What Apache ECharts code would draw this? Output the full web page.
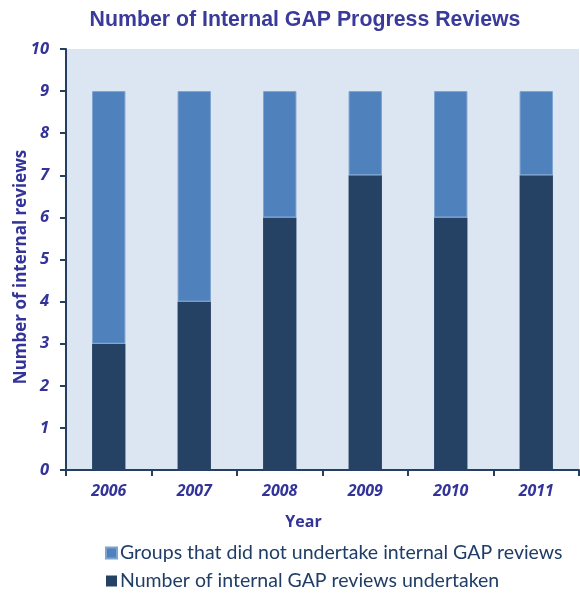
<!DOCTYPE html>
<html><head><meta charset="utf-8">
<script src="https://cdn.jsdelivr.net/npm/echarts@6/dist/echarts.min.js"></script>
<style>html,body{margin:0;padding:0;background:#fff}#c{width:580px;height:596px}</style>
</head><body><div id="c"></div>
<script>
const years = ['2006','2007','2008','2009','2010','2011'];
const undertaken = [3, 4, 6, 7, 6, 7];
const notUndertaken = [6, 5, 3, 2, 3, 2];
const yTicks = [0,1,2,3,4,5,6,7,8,9,10];
const seriesNames = ['Number of internal GAP reviews undertaken','Groups that did not undertake internal GAP reviews'];
const yAxisTitle = 'Number of internal reviews';

const chart = echarts.init(document.getElementById('c'));
const labelColor = '#33339a';
const axisColor = '#243f60';
chart.setOption({
  animation: false,
  title: {
    text: 'Number of Internal GAP Progress Reviews',
    left: 300, top: 5, textAlign: 'center',
    textStyle: {fontFamily: 'Liberation Sans', fontSize: 21.3, fontWeight: 'bold', color: '#3a3a9a'}
  },
  graphic: [{
    type: 'text', x: 21, y: 267, rotation: Math.PI / 2,
    style: {text: yAxisTitle, fontFamily: 'Open Sans', fontSize: 17, fontWeight: 'bold', fill: labelColor,
            align: 'center', verticalAlign: 'middle'}
  }],
  grid: {left: 66, top: 49, right: 1, bottom: 126, show: true, backgroundColor: '#dce6f2', borderWidth: 0,
         containLabel: false, outerBoundsMode: 'none'},
  legend: {
    orient: 'vertical', left: 105, top: 543, itemGap: 8, padding: 0, height: 60,
    itemWidth: 11, itemHeight: 11, icon: 'rect',
    data: [seriesNames[1], seriesNames[0]],
    textStyle: {fontFamily: 'Lato', fontSize: 19.5, lineHeight: 19, color: '#1f3d66', padding: [0,0,0,-2]}
  },
  xAxis: {
    type: 'category', data: years,
    name: 'Year', nameLocation: 'middle', nameGap: 44,
    nameTextStyle: {fontFamily: 'Open Sans', fontSize: 16, fontWeight: 'bold', color: labelColor, padding: [0,38,0,0]},
    axisLine: {lineStyle: {color: axisColor, width: 2}},
    axisTick: {show: true, alignWithLabel: false, length: 6, lineStyle: {color: axisColor, width: 2}},
    axisLabel: {fontFamily: 'Open Sans', fontSize: 16, fontWeight: 'bold', fontStyle: 'italic', color: labelColor, margin: 13}
  },
  yAxis: {
    type: 'value', min: yTicks[0], max: yTicks[yTicks.length-1], interval: 1,
    axisLine: {show: true, lineStyle: {color: axisColor, width: 2}},
    axisTick: {show: true, length: 6, lineStyle: {color: axisColor, width: 2}},
    splitLine: {show: false},
    axisLabel: {fontFamily: 'Open Sans', fontSize: 16.5, fontWeight: 'bold', fontStyle: 'italic', color: labelColor, margin: 17}
  },
  series: [
    {name: seriesNames[0], type: 'bar', stack: 's', data: undertaken, barWidth: '39%',
     itemStyle: {color: '#254164'}},
    {name: seriesNames[1], type: 'bar', stack: 's', data: notUndertaken, barWidth: '39%',
     itemStyle: {color: '#4f81bd', borderColor: '#7ea3cf', borderWidth: 1}}
  ]
});
</script></body></html>
